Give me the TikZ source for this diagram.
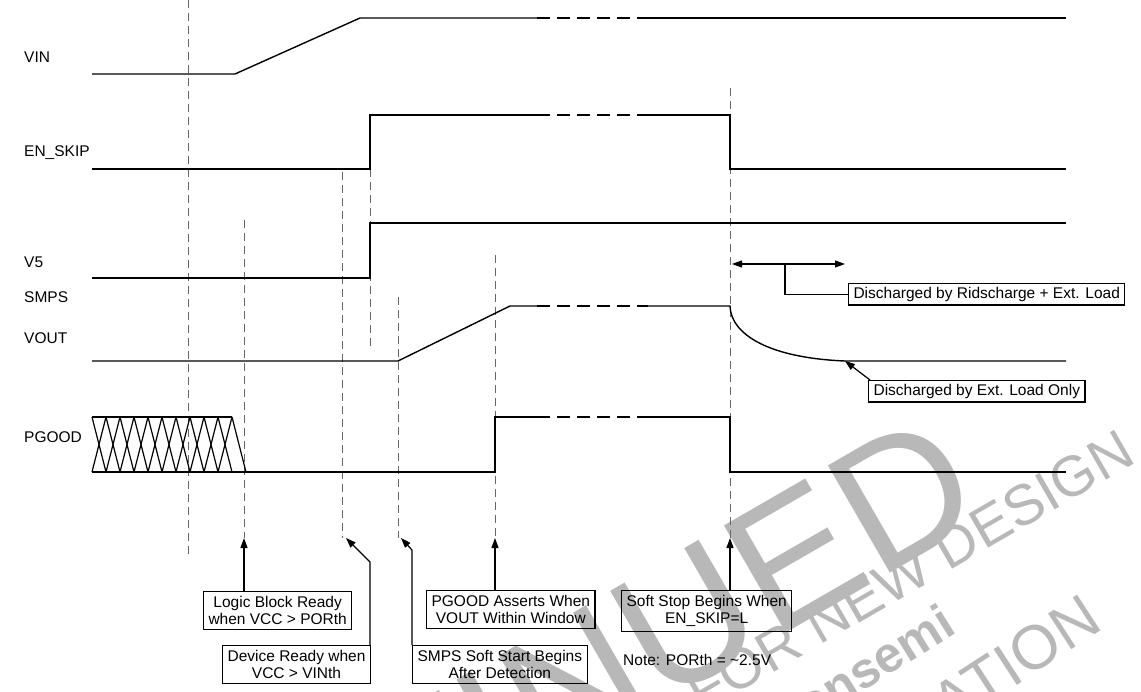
\documentclass[tikz,border=0pt]{standalone}
\usepackage{fontspec}
\setmainfont{Liberation Sans}
\usetikzlibrary{arrows.meta}
\begin{document}
\begin{tikzpicture}[x=1pt,y=-1pt,
  sig/.style={line width=1.4pt},
  hdash/.style={line width=1.4pt, dash pattern=on 13pt off 7pt},
  vdash/.style={draw=black!60, line width=1pt, dash pattern=on 8pt off 5pt},
  lbl/.style={font=\fontsize{15.5}{17.5}\selectfont, anchor=base west, inner sep=0pt},
  box/.style={draw, line width=1.1pt, font=\fontsize{15.5}{17.5}\selectfont, align=center, inner xsep=5pt, inner ysep=4.5pt},
  arr/.style={line width=1.2pt, -{Triangle[length=10pt,width=7pt]}},
  darr/.style={line width=1.2pt, {Triangle[length=10pt,width=7pt]}-{Triangle[length=10pt,width=7pt]}},
  wm/.style={text=black!28, inner sep=0pt},
]
\useasboundingbox (0,0) rectangle (1141,692);
% watermark
\begin{scope}
\clip (0,0) rectangle (1141,692);
\node[wm, font=\fontsize{180}{180}\selectfont, rotate=30, anchor=base east] (wm1) at (990,515) {DISCONTINUED};
\node[wm, font=\fontsize{57}{57}\selectfont, rotate=30, anchor=base east] (wm2) at (1138,462) {NOT RECOMMENDED FOR NEW DESIGN};
\node[wm, font=\fontsize{50}{50}\selectfont\bfseries, rotate=32, anchor=base east] (wm3) at (958,632) {onsemi};
\node[wm, font=\fontsize{62}{62}\selectfont, rotate=33, anchor=base east] (wm4) at (1105,628) {INFORMATION};
\end{scope}
% labels
\node[lbl] (lvin) at (24,63) {VIN};
\node[lbl] (len) at (24,157) {EN\_SKIP};
\node[lbl] (lv5) at (24,268) {V5};
\node[lbl] (lsmps) at (24,303) {SMPS};
\node[lbl] (lvout) at (24,344) {VOUT};
\node[lbl] (lpg) at (24,443) {PGOOD};
% vertical dashed markers
\draw[vdash] (188,0) -- (188,555);
\draw[vdash] (244,220) -- (244,538);
\draw[vdash] (342,172) -- (342,538);
\draw[vdash] (370,169) -- (370,348);
\draw[vdash] (398,297) -- (398,538);
\draw[vdash] (495,255) -- (495,538);
\draw[vdash] (730,88) -- (730,538);
% VIN
\draw[sig] (92,74) -- (235,74) -- (360,18) -- (537,18);
\draw[hdash] (537,18) -- (648,18);
\draw[sig] (648,18) -- (1066,18);
% EN_SKIP
\draw[sig] (92,169) -- (370,169) -- (370,115) -- (537,115);
\draw[hdash] (537,115) -- (648,115);
\draw[sig] (648,115) -- (730,115) -- (730,169) -- (1066,169);
% V5
\draw[sig] (92,278) -- (370,278) -- (370,223) -- (1066,223);
% SMPS VOUT
\draw[sig] (92,361) -- (398,361) -- (510,306) -- (537,306);
\draw[hdash] (537,306) -- (648,306);
\draw[sig] (648,306) -- (730,306) .. controls (731,335) and (770,358) .. (845,361) -- (1066,361);
% PGOOD hatch
\draw[line width=1.3pt] (92,417) -- (232,417);
\draw[line width=1.3pt] (92,472) -- (246,472);
\foreach \i in {0,...,10}{
  \draw[line width=1.2pt] (92+14*\i,417) -- (106+14*\i,472);
}
\foreach \i in {0,...,9}{
  \draw[line width=1.2pt] (92+14*\i,472) -- (106+14*\i,417);
}
\draw[sig] (246,472) -- (495,472) -- (495,417) -- (537,417);
\draw[hdash] (537,417) -- (648,417);
\draw[sig] (648,417) -- (730,417) -- (730,472) -- (1066,472);
% boxes
\node[box, anchor=north west] (b1) at (203,591) {Logic Block Ready\\when VCC > PORth};
\node[box, anchor=north east] (b2) at (371,645) {Device Ready when\\VCC > VINth};
\node[box, anchor=north west] (b3) at (426,590) {PGOOD Asserts When\\VOUT Within Window};
\node[box, anchor=north west] (b4) at (412,645) {SMPS Soft Start Begins\\After Detection};
\node[box, anchor=north west] (b5) at (621,590) {Soft Stop Begins When\\EN\_SKIP=L};
\node[lbl] (note) at (623,665) {Note: PORth = \textasciitilde2.5V};
\node[box, anchor=north west, inner ysep=3.5pt] (b6) at (848,283) {Discharged by Ridscharge + Ext. Load};
\node[box, anchor=north west, inner ysep=3.5pt] (b7) at (868,380) {Discharged by Ext. Load Only};
% arrows
\coordinate (t1) at (244,538);
\draw[arr] (b1.north -| t1) -- (t1);
\coordinate (k2) at (370,562);
\coordinate (t2) at (346,538);
\draw[arr] (b2.north -| k2) -- (k2) -- (t2);
\coordinate (k3) at (412,550);
\coordinate (t3) at (401,538);
\draw[arr] (b4.north -| k3) -- (k3) -- (t3);
\coordinate (t4) at (495,538);
\draw[arr] (b3.north -| t4) -- (t4);
\coordinate (t5) at (730,538);
\draw[arr] (b5.north -| t5) -- (t5);
\coordinate (dl) at (732,264);
\coordinate (dr) at (845,264);
\coordinate (ds) at (785,264);
\draw[darr] (dl) -- (dr);
\draw[line width=1.2pt] (ds) |- (b6.west);
\coordinate (t7) at (845,361);
\draw[arr] ([xshift=2pt]b7.north west) -- (t7);
\end{tikzpicture}
\end{document}
